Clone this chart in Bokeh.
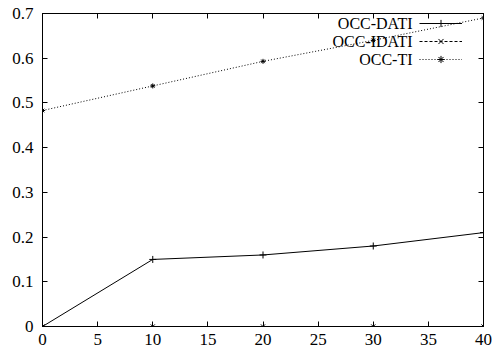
from bokeh.plotting import figure
from bokeh.models import (LinearAxis, FixedTicker, Range1d, Legend, LegendItem, Label)
from bokeh.embed import file_html
from bokeh.resources import INLINE

# ---- data ----
x_vals = [0, 10, 20, 30, 40]
occ_dati = [0.0, 0.15, 0.16, 0.18, 0.21]
occ_idati = [0.0, 0.0, 0.0, 0.0, 0.0]
occ_ti = [0.483, 0.538, 0.593, 0.640, 0.690]
series_names = ["OCC-DATI", "OCC-IDATI", "OCC-TI"]
x_ticks = [0, 5, 10, 15, 20, 25, 30, 35, 40]
y_ticks = [0, 0.1, 0.2, 0.3, 0.4, 0.5, 0.6, 0.7]
y_tick_labels = ["0", "0.1", "0.2", "0.3", "0.4", "0.5", "0.6", "0.7"]

FONT = "Liberation Serif"
TICK_FS = "17px"
LEG_FS = "16px"

p = figure(width=494, height=356, output_backend="svg", toolbar_location=None,
           x_range=Range1d(0, 40), y_range=Range1d(0, 0.7),
           min_border_left=42, min_border_right=11, min_border_top=13, min_border_bottom=30,
           x_axis_location=None, y_axis_location=None)
p.grid.visible = False
p.outline_line_color = "black"
p.outline_line_alpha = 1.0
p.outline_line_width = 1
p.background_fill_color = "white"
p.border_fill_color = "white"

def style_axis(ax, ticks, show_labels, standoff, labels=None):
    ax.ticker = FixedTicker(ticks=ticks)
    ax.major_tick_in = 5
    ax.major_tick_out = 0
    ax.minor_tick_line_color = None
    ax.axis_line_color = "black"
    ax.major_tick_line_color = "black"
    ax.major_label_text_font = FONT
    ax.major_label_text_font_size = TICK_FS
    ax.major_label_text_color = "black"
    if show_labels:
        ax.major_label_standoff = standoff
        if labels:
            ax.major_label_overrides = {t: s for t, s in zip(ticks, labels)}
    else:
        ax.major_label_standoff = 0
        ax.major_label_overrides = {t: "" for t in ticks}

xb = LinearAxis(); style_axis(xb, x_ticks, True, 7, [str(t) for t in x_ticks])
xt = LinearAxis(); style_axis(xt, x_ticks, False, 0)
yl = LinearAxis(); style_axis(yl, y_ticks, True, 9, y_tick_labels)
yr = LinearAxis(); style_axis(yr, y_ticks, False, 0)
p.add_layout(xb, "below")
p.add_layout(xt, "above")
p.add_layout(yl, "left")
p.add_layout(yr, "right")

l1 = p.line(x_vals, occ_dati, line_color="black", line_width=1)
s1 = p.scatter(x_vals, occ_dati, marker="cross", size=7, line_color="black", line_width=1)
l2 = p.line(x_vals, occ_idati, line_color="black", line_width=1, line_dash="3 2")
s2 = p.scatter(x_vals, occ_idati, marker="x", size=6, line_color="black", line_width=1)
l3 = p.line(x_vals, occ_ti, line_color="black", line_width=1, line_dash="1 2")
s3 = p.scatter(x_vals, occ_ti, marker="asterisk", size=5, line_color="black", line_width=1)

legend = Legend(items=[LegendItem(label=" ", renderers=[l1, s1]),
                       LegendItem(label=" ", renderers=[l2, s2]),
                       LegendItem(label=" ", renderers=[l3, s3])],
                location=(377, 258), orientation="vertical",
                glyph_width=43, glyph_height=18, label_height=18, label_width=0,
                label_standoff=0, spacing=0, padding=0, margin=0,
                label_text_font_size="1px",
                border_line_color=None, background_fill_alpha=0)
p.add_layout(legend)

for i, name in enumerate(series_names):
    p.add_layout(Label(x=370, y=303 - 18 * i, x_units="screen", y_units="screen",
                       text=name, text_align="right", text_baseline="middle",
                       text_font=FONT, text_font_size=LEG_FS, text_color="black"))

open("out.html", "w").write(file_html(p, INLINE))
